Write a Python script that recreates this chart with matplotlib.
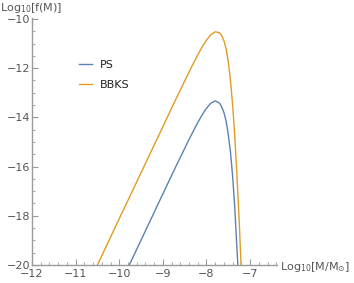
import matplotlib
matplotlib.use('Agg')
import matplotlib.pyplot as plt
from matplotlib.ticker import MultipleLocator, FuncFormatter

# values (log10 M, log10 f)
ps_logm = [-9.77, -9.5, -9.0, -8.7, -8.4, -8.3, -8.2, -8.1, -8.0, -7.9, -7.8,
           -7.7, -7.65, -7.6, -7.55, -7.5, -7.45, -7.4, -7.35, -7.3, -7.27]
ps_logf = [-20.0, -18.99, -17.11, -15.99, -14.9, -14.55, -14.21, -13.9, -13.63,
           -13.42, -13.33, -13.42, -13.58, -13.8, -14.15, -14.7, -15.4, -16.4,
           -17.7, -19.4, -20.3]

bbks_logm = [-10.5, -10.0, -9.5, -9.0, -8.7, -8.4, -8.3, -8.2, -8.1, -8.0, -7.9,
             -7.8, -7.7, -7.65, -7.6, -7.55, -7.5, -7.45, -7.4, -7.35, -7.3,
             -7.25, -7.21, -7.19]
bbks_logf = [-20.0, -18.12, -16.25, -14.38, -13.25, -12.16, -11.8, -11.46, -11.14,
             -10.86, -10.64, -10.52, -10.56, -10.68, -10.88, -11.2, -11.75, -12.5,
             -13.5, -14.8, -16.4, -18.2, -19.9, -20.6]

series_names = ['PS', 'BBKS']
series_colors = ['#5e81b5', '#e19c24']

AXCOL = '#9a9a9a'
TXTCOL = '#555555'

fig = plt.figure(figsize=(3.54, 2.83), dpi=100)
ax = fig.add_axes([32 / 354, 18 / 283, 244.7 / 354, 247 / 283])

ax.plot(ps_logm, ps_logf, color=series_colors[0], lw=1.0, label=series_names[0])
ax.plot(bbks_logm, bbks_logf, color=series_colors[1], lw=1.0, label=series_names[1])

ax.set_xlim(-12, -6.39)
ax.set_ylim(-20, -9.96)

for s in ['top', 'right']:
    ax.spines[s].set_visible(False)
for s in ['left', 'bottom']:
    ax.spines[s].set_color(AXCOL)
    ax.spines[s].set_linewidth(1.0)

ax.xaxis.set_major_locator(MultipleLocator(1))
ax.xaxis.set_minor_locator(MultipleLocator(0.2))
ax.yaxis.set_major_locator(MultipleLocator(2))
ax.yaxis.set_minor_locator(MultipleLocator(0.5))
fmt = FuncFormatter(lambda v, p: '{:d}'.format(int(round(v))).replace('-', '\u2212'))
ax.xaxis.set_major_formatter(fmt)
ax.yaxis.set_major_formatter(fmt)

ax.tick_params(which='both', direction='in', color=AXCOL, labelcolor=TXTCOL,
               labelsize=8)
ax.tick_params(which='major', length=4, width=0.8, pad=1.5)
ax.tick_params(axis='x', which='major', pad=3)
ax.tick_params(which='minor', length=2, width=0.6)

fig.text(0.0, 1 - 11 / 283, 'Log$_{10}$[f(M)]', color=TXTCOL, fontsize=8,
         ha='left', va='baseline')
fig.text(280 / 354, 1 - 270 / 283, r'Log$_{10}$[M/M$_{\odot}$]', color=TXTCOL,
         fontsize=8, ha='left', va='baseline')

leg = ax.legend(loc='upper left', bbox_to_anchor=(0.15, 0.87), frameon=False,
                handlelength=1.2, handletextpad=0.7, labelspacing=0.9,
                fontsize=8)
for t in leg.get_texts():
    t.set_color('#222222')

fig.savefig('out.png', dpi=100)
